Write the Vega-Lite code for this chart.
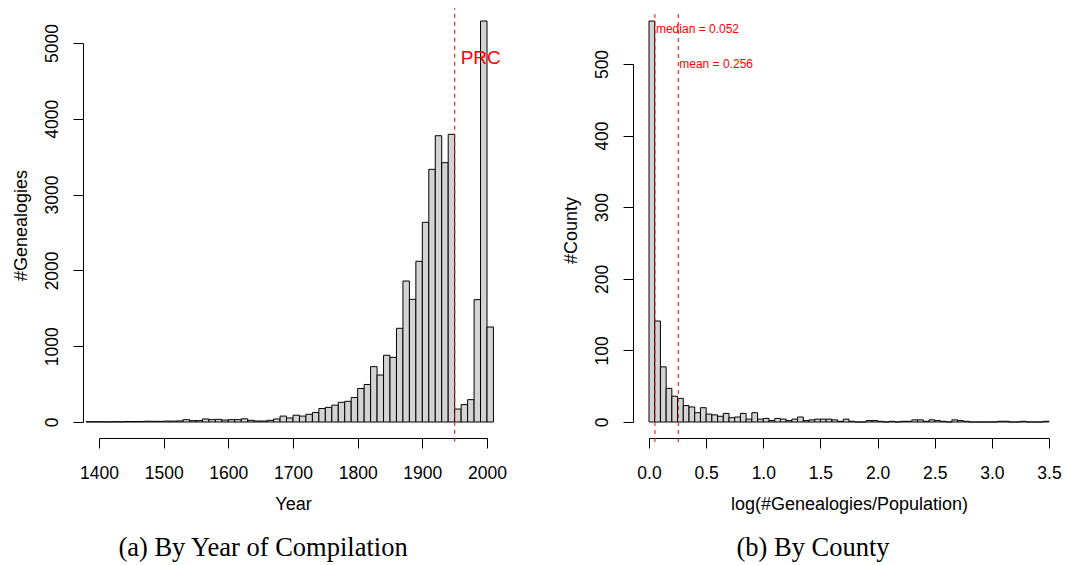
{
  "$schema": "https://vega.github.io/schema/vega-lite/v6.json",
  "padding": {"left": 12, "top": 7, "right": 2, "bottom": 2},
  "background": "white",
  "config": {
    "view": {"stroke": null},
    "font": "Liberation Sans",
    "axis": {
      "grid": false,
      "domainColor": "black",
      "tickColor": "black",
      "labelColor": "black",
      "titleColor": "black",
      "labelFont": "Liberation Sans",
      "titleFont": "Liberation Sans",
      "labelFontSize": 17.5,
      "titleFontSize": 18,
      "titleFontWeight": "normal",
      "tickSize": 10,
      "offset": 16,
      "labelOverlap": false,
      "labelFlush": false
    },
    "axisY": {"labelAngle": -90, "labelAlign": "center", "labelBaseline": "bottom", "labelPadding": 12, "titlePadding": 12.5},
    "axisX": {"labelPadding": 16, "titlePadding": 13.5},
    "title": {"orient": "bottom", "font": "Liberation Serif", "fontSize": 26.5, "fontWeight": "normal", "color": "black", "anchor": "middle"}
  },
  "datasets": {
    "years": [
      {"start": 1380, "end": 1390, "count": 4},
      {"start": 1390, "end": 1400, "count": 3},
      {"start": 1400, "end": 1410, "count": 3},
      {"start": 1410, "end": 1420, "count": 2},
      {"start": 1420, "end": 1430, "count": 4},
      {"start": 1430, "end": 1440, "count": 3},
      {"start": 1440, "end": 1450, "count": 6},
      {"start": 1450, "end": 1460, "count": 5},
      {"start": 1460, "end": 1470, "count": 7},
      {"start": 1470, "end": 1480, "count": 10},
      {"start": 1480, "end": 1490, "count": 9},
      {"start": 1490, "end": 1500, "count": 8},
      {"start": 1500, "end": 1510, "count": 12},
      {"start": 1510, "end": 1520, "count": 12},
      {"start": 1520, "end": 1530, "count": 14},
      {"start": 1530, "end": 1540, "count": 31},
      {"start": 1540, "end": 1550, "count": 18},
      {"start": 1550, "end": 1560, "count": 18},
      {"start": 1560, "end": 1570, "count": 40},
      {"start": 1570, "end": 1580, "count": 31},
      {"start": 1580, "end": 1590, "count": 35},
      {"start": 1590, "end": 1600, "count": 26},
      {"start": 1600, "end": 1610, "count": 31},
      {"start": 1610, "end": 1620, "count": 31},
      {"start": 1620, "end": 1630, "count": 42},
      {"start": 1630, "end": 1640, "count": 22},
      {"start": 1640, "end": 1650, "count": 13},
      {"start": 1650, "end": 1660, "count": 13},
      {"start": 1660, "end": 1670, "count": 22},
      {"start": 1670, "end": 1680, "count": 40},
      {"start": 1680, "end": 1690, "count": 78},
      {"start": 1690, "end": 1700, "count": 53},
      {"start": 1700, "end": 1710, "count": 90},
      {"start": 1710, "end": 1720, "count": 78},
      {"start": 1720, "end": 1730, "count": 102},
      {"start": 1730, "end": 1740, "count": 125},
      {"start": 1740, "end": 1750, "count": 178},
      {"start": 1750, "end": 1760, "count": 193},
      {"start": 1760, "end": 1770, "count": 222},
      {"start": 1770, "end": 1780, "count": 260},
      {"start": 1780, "end": 1790, "count": 273},
      {"start": 1790, "end": 1800, "count": 323},
      {"start": 1800, "end": 1810, "count": 442},
      {"start": 1810, "end": 1820, "count": 495},
      {"start": 1820, "end": 1830, "count": 730},
      {"start": 1830, "end": 1840, "count": 620},
      {"start": 1840, "end": 1850, "count": 880},
      {"start": 1850, "end": 1860, "count": 853},
      {"start": 1860, "end": 1870, "count": 1236},
      {"start": 1870, "end": 1880, "count": 1860},
      {"start": 1880, "end": 1890, "count": 1618},
      {"start": 1890, "end": 1900, "count": 2120},
      {"start": 1900, "end": 1910, "count": 2634},
      {"start": 1910, "end": 1920, "count": 3333},
      {"start": 1920, "end": 1930, "count": 3777},
      {"start": 1930, "end": 1940, "count": 3421},
      {"start": 1940, "end": 1950, "count": 3795},
      {"start": 1950, "end": 1960, "count": 171},
      {"start": 1960, "end": 1970, "count": 229},
      {"start": 1970, "end": 1980, "count": 295},
      {"start": 1980, "end": 1990, "count": 1614},
      {"start": 1990, "end": 2000, "count": 5290},
      {"start": 2000, "end": 2010, "count": 1253}
    ],
    "county": [
      {"start": 0.00, "end": 0.05, "count": 560},
      {"start": 0.05, "end": 0.10, "count": 141},
      {"start": 0.10, "end": 0.15, "count": 77},
      {"start": 0.15, "end": 0.20, "count": 47},
      {"start": 0.20, "end": 0.25, "count": 36},
      {"start": 0.25, "end": 0.30, "count": 33},
      {"start": 0.30, "end": 0.35, "count": 23},
      {"start": 0.35, "end": 0.40, "count": 21},
      {"start": 0.40, "end": 0.45, "count": 13},
      {"start": 0.45, "end": 0.50, "count": 20},
      {"start": 0.50, "end": 0.55, "count": 11},
      {"start": 0.55, "end": 0.60, "count": 10},
      {"start": 0.60, "end": 0.65, "count": 8},
      {"start": 0.65, "end": 0.70, "count": 12},
      {"start": 0.70, "end": 0.75, "count": 6},
      {"start": 0.75, "end": 0.80, "count": 7},
      {"start": 0.80, "end": 0.85, "count": 12},
      {"start": 0.85, "end": 0.90, "count": 4},
      {"start": 0.90, "end": 0.95, "count": 13},
      {"start": 0.95, "end": 1.00, "count": 4},
      {"start": 1.00, "end": 1.05, "count": 5},
      {"start": 1.05, "end": 1.10, "count": 2},
      {"start": 1.10, "end": 1.15, "count": 5},
      {"start": 1.15, "end": 1.20, "count": 4},
      {"start": 1.20, "end": 1.25, "count": 2},
      {"start": 1.25, "end": 1.30, "count": 4},
      {"start": 1.30, "end": 1.35, "count": 7},
      {"start": 1.35, "end": 1.40, "count": 2},
      {"start": 1.40, "end": 1.45, "count": 3},
      {"start": 1.45, "end": 1.50, "count": 4},
      {"start": 1.50, "end": 1.55, "count": 4},
      {"start": 1.55, "end": 1.60, "count": 4},
      {"start": 1.60, "end": 1.65, "count": 3},
      {"start": 1.65, "end": 1.70, "count": 1},
      {"start": 1.70, "end": 1.75, "count": 4},
      {"start": 1.75, "end": 1.80, "count": 1},
      {"start": 1.80, "end": 1.85, "count": 0},
      {"start": 1.85, "end": 1.90, "count": 0},
      {"start": 1.90, "end": 1.95, "count": 2},
      {"start": 1.95, "end": 2.00, "count": 2},
      {"start": 2.00, "end": 2.05, "count": 1},
      {"start": 2.05, "end": 2.10, "count": 0},
      {"start": 2.10, "end": 2.15, "count": 1},
      {"start": 2.15, "end": 2.20, "count": 0},
      {"start": 2.20, "end": 2.25, "count": 1},
      {"start": 2.25, "end": 2.30, "count": 1},
      {"start": 2.30, "end": 2.35, "count": 3},
      {"start": 2.35, "end": 2.40, "count": 3},
      {"start": 2.40, "end": 2.45, "count": 1},
      {"start": 2.45, "end": 2.50, "count": 3},
      {"start": 2.50, "end": 2.55, "count": 2},
      {"start": 2.55, "end": 2.60, "count": 1},
      {"start": 2.60, "end": 2.65, "count": 0},
      {"start": 2.65, "end": 2.70, "count": 3},
      {"start": 2.70, "end": 2.75, "count": 2},
      {"start": 2.75, "end": 2.80, "count": 1},
      {"start": 2.80, "end": 2.85, "count": 0},
      {"start": 2.85, "end": 2.90, "count": 0},
      {"start": 2.90, "end": 2.95, "count": 0},
      {"start": 2.95, "end": 3.00, "count": 0},
      {"start": 3.00, "end": 3.05, "count": 0},
      {"start": 3.05, "end": 3.10, "count": 1},
      {"start": 3.10, "end": 3.15, "count": 1},
      {"start": 3.15, "end": 3.20, "count": 0},
      {"start": 3.20, "end": 3.25, "count": 0},
      {"start": 3.25, "end": 3.30, "count": 1},
      {"start": 3.30, "end": 3.35, "count": 0},
      {"start": 3.35, "end": 3.40, "count": 0},
      {"start": 3.40, "end": 3.45, "count": 0},
      {"start": 3.45, "end": 3.50, "count": 1}
    ]
  },
  "bounds": "flush",
  "spacing": 162,
  "hconcat": [
    {
      "width": 388,
      "height": 379,
      "title": {"text": "(a) By Year of Compilation", "dx": -30, "offset": 22},
      "layer": [
        {
          "data": {"name": "years"},
          "mark": {"type": "rect", "fill": "#d3d3d3", "stroke": "black", "strokeWidth": 1},
          "encoding": {
            "x": {"field": "start", "type": "quantitative", "scale": {"domain": [1400, 2000], "nice": false, "zero": false},
                  "axis": {"values": [1400, 1500, 1600, 1700, 1800, 1900, 2000], "format": "d", "title": "Year"}},
            "x2": {"field": "end"},
            "y": {"field": "count", "type": "quantitative", "scale": {"domain": [0, 5000], "nice": false},
                  "axis": {"values": [0, 1000, 2000, 3000, 4000, 5000], "format": "d", "title": "#Genealogies", "titleY": 182}},
            "y2": {"datum": 0}
          }
        },
        {
          "data": {"values": [{"year": 1950, "lo": -260, "hi": 5460}]},
          "mark": {"type": "rule", "color": "#ff0000", "strokeWidth": 1, "strokeDash": [4, 4]},
          "encoding": {
            "x": {"field": "year", "type": "quantitative"},
            "y": {"field": "lo", "type": "quantitative"},
            "y2": {"field": "hi"}
          }
        },
        {
          "data": {"values": [{"year": 1950, "pos": 4800, "label": "PRC"}]},
          "mark": {"type": "text", "align": "left", "baseline": "middle", "dx": 6, "fontSize": 19, "color": "#ff0000"},
          "encoding": {
            "x": {"field": "year", "type": "quantitative"},
            "y": {"field": "pos", "type": "quantitative"},
            "text": {"field": "label"}
          }
        }
      ]
    },
    {
      "bounds": "flush",
      "spacing": 20,
      "vconcat": [
        {
          "width": 400,
          "height": 1,
          "data": {"values": []},
          "mark": {"type": "text"},
          "encoding": {}
        },
        {
          "width": 400,
          "height": 358,
          "title": {"text": "(b) By County", "dx": -36, "offset": 22},
          "layer": [
            {
              "data": {"name": "county"},
              "mark": {"type": "rect", "fill": "#d3d3d3", "stroke": "black", "strokeWidth": 1},
              "encoding": {
                "x": {"field": "start", "type": "quantitative", "scale": {"domain": [0, 3.5], "nice": false, "zero": false},
                      "axis": {"values": [0, 0.5, 1, 1.5, 2, 2.5, 3, 3.5], "format": ".1f", "title": "log(#Genealogies/Population)"}},
                "x2": {"field": "end"},
                "y": {"field": "count", "type": "quantitative", "scale": {"domain": [0, 500], "nice": false},
                      "axis": {"values": [0, 100, 200, 300, 400, 500], "format": "d", "title": "#County", "titleY": 166}},
                "y2": {"datum": 0}
              }
            },
            {
              "data": {"values": [{"v": 0.052, "lo": -28, "hi": 574}, {"v": 0.256, "lo": -28, "hi": 574}]},
              "mark": {"type": "rule", "color": "#ff0000", "strokeWidth": 1, "strokeDash": [4, 4]},
              "encoding": {
                "x": {"field": "v", "type": "quantitative"},
                "y": {"field": "lo", "type": "quantitative"},
                "y2": {"field": "hi"}
              }
            },
            {
              "data": {"values": [{"v": 0.052, "pos": 549, "label": "median = 0.052"}, {"v": 0.256, "pos": 500, "label": "mean = 0.256"}]},
              "mark": {"type": "text", "align": "left", "baseline": "middle", "dx": 1, "fontSize": 12, "color": "#ff0000"},
              "encoding": {
                "x": {"field": "v", "type": "quantitative"},
                "y": {"field": "pos", "type": "quantitative"},
                "text": {"field": "label"}
              }
            }
          ]
        }
      ]
    }
  ]
}
